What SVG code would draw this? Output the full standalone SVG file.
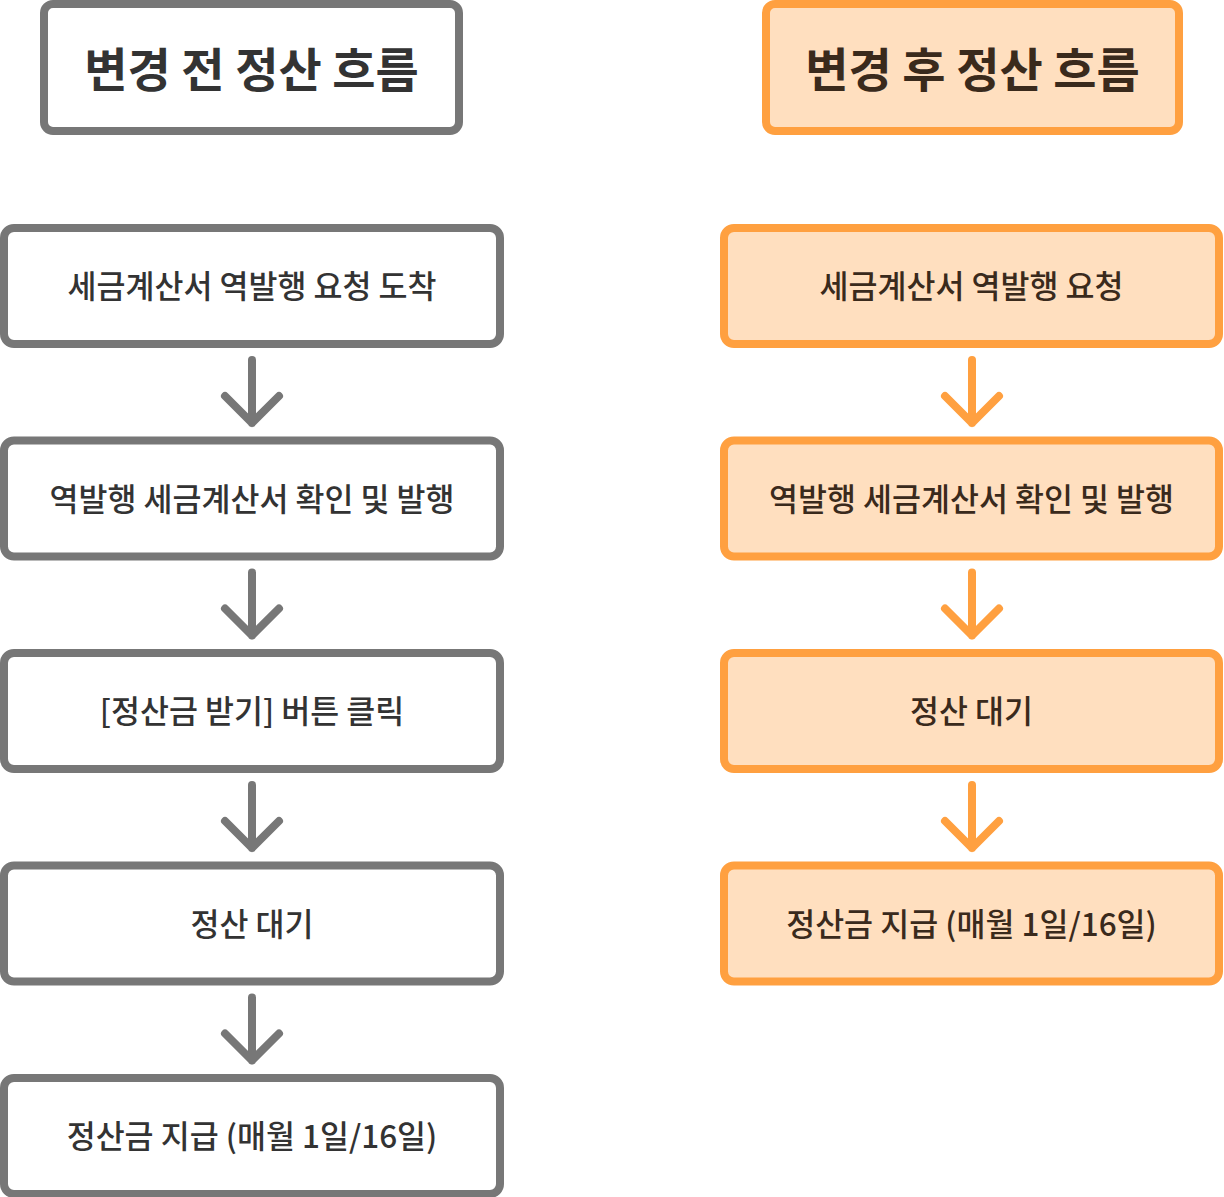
<svg xmlns="http://www.w3.org/2000/svg" width="1224" height="1197" viewBox="0 0 1224 1197">
<style>
.g{fill:#ffffff;stroke:#777777;stroke-width:8}
.o{fill:#FFDFBF;stroke:#FFA040;stroke-width:8}
.t{font-family:"Noto Sans CJK KR","Noto Sans",sans-serif;font-size:31.5px;font-weight:500;text-anchor:middle;dominant-baseline:central}
.tt{font-family:"Noto Sans CJK KR","Noto Sans",sans-serif;font-size:47px;font-weight:700;text-anchor:middle;dominant-baseline:central}
.dg{fill:#333333}
.db{fill:#3A2A1C}
.ag{fill:none;stroke:#777777;stroke-width:8;stroke-linecap:round;stroke-linejoin:round}
.ao{fill:none;stroke:#FFA040;stroke-width:8;stroke-linecap:round;stroke-linejoin:round}
</style>
<rect width="1224" height="1197" fill="#ffffff"/>
<g id="title-before"><rect class="g" x="44" y="4" width="415" height="127" rx="9"/><text class="tt dg" x="251.5" y="66">변경 전 정산 흐름</text></g>
<g id="title-after"><rect class="o" x="766" y="4" width="413" height="127" rx="9"/><text class="tt db" x="972.5" y="66">변경 후 정산 흐름</text></g>
<g id="l1"><rect class="g" x="4" y="228" width="496" height="116" rx="10"/><text class="t dg" x="252" y="284">세금계산서 역발행 요청 도착</text></g>
<g id="l2"><rect class="g" x="4" y="440.5" width="496" height="116" rx="10"/><text class="t dg" x="252" y="496.5">역발행 세금계산서 확인 및 발행</text></g>
<g id="l3"><rect class="g" x="4" y="653" width="496" height="116" rx="10"/><text class="t dg" x="252" y="709">[정산금 받기] 버튼 클릭</text></g>
<g id="l4"><rect class="g" x="4" y="865.5" width="496" height="116" rx="10"/><text class="t dg" x="252" y="921.5">정산 대기</text></g>
<g id="l5"><rect class="g" x="4" y="1078" width="496" height="116" rx="10"/><text class="t dg" x="252" y="1134">정산금 지급 (매월 1일/16일)</text></g>
<g id="r1"><rect class="o" x="724" y="228" width="495" height="116" rx="10"/><text class="t db" x="971.5" y="284">세금계산서 역발행 요청</text></g>
<g id="r2"><rect class="o" x="724" y="440.5" width="495" height="116" rx="10"/><text class="t db" x="971.5" y="496.5">역발행 세금계산서 확인 및 발행</text></g>
<g id="r3"><rect class="o" x="724" y="653" width="495" height="116" rx="10"/><text class="t db" x="971.5" y="709">정산 대기</text></g>
<g id="r4"><rect class="o" x="724" y="865.5" width="495" height="116" rx="10"/><text class="t db" x="971.5" y="921.5">정산금 지급 (매월 1일/16일)</text></g>
<g id="connectors">
<path class="ag" d="M252 360V423M225 396L252 423L279 396"/>
<path class="ag" d="M252 572.5V635.5M225 608.5L252 635.5L279 608.5"/>
<path class="ag" d="M252 785V848M225 821L252 848L279 821"/>
<path class="ag" d="M252 997.5V1060.5M225 1033.5L252 1060.5L279 1033.5"/>
<path class="ao" d="M972 360V423M945 396L972 423L999 396"/>
<path class="ao" d="M972 572.5V635.5M945 608.5L972 635.5L999 608.5"/>
<path class="ao" d="M972 785V848M945 821L972 848L999 821"/>
</g>
</svg>
